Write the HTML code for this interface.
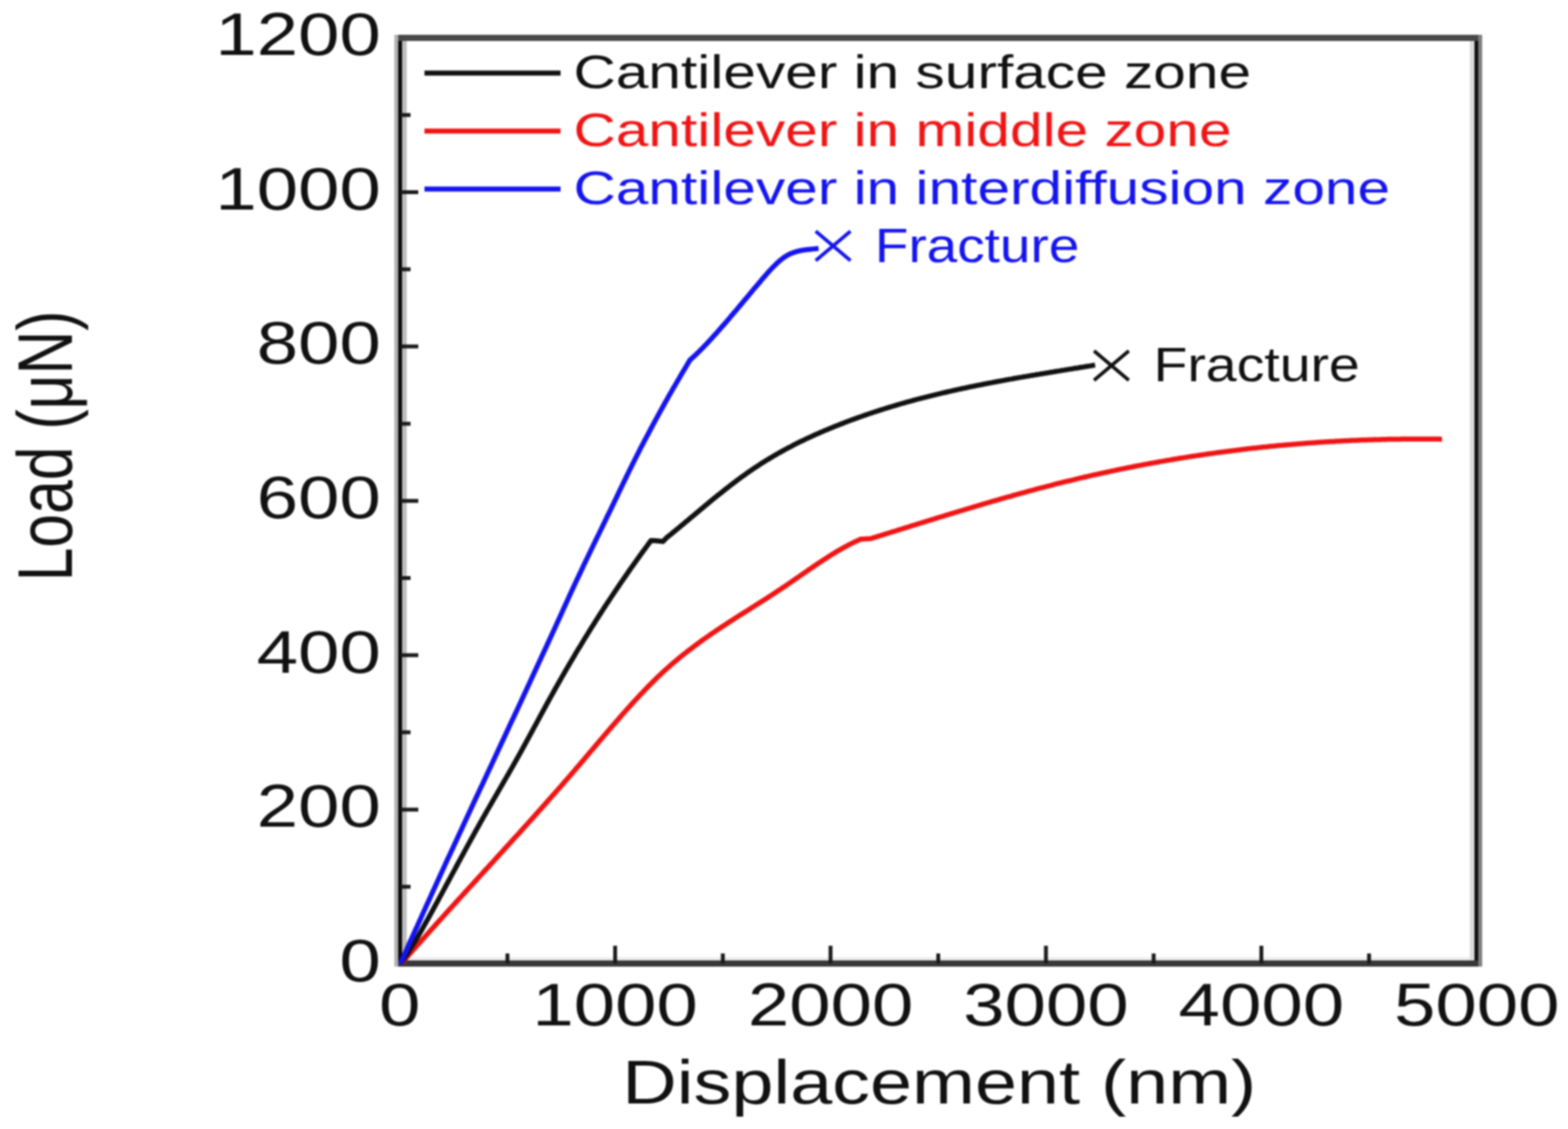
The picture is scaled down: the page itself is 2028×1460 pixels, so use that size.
<!DOCTYPE html>
<html><head><meta charset="utf-8"><title>Load-displacement curves</title>
<style>
html,body{margin:0;padding:0;background:#fff;}
body{width:2028px;height:1460px;overflow:hidden;}
svg{display:block;filter:blur(0.9px);}
</style></head>
<body>
<svg width="2028" height="1460" viewBox="0 0 2028 1460" font-family="'Liberation Sans', Arial, sans-serif">
<rect width="2028" height="1460" fill="#fff"/>
<rect x="510" y="45" width="5" height="1205" fill="#b2b2b2"/>
<rect x="520" y="53" width="6" height="1189" fill="#bdbdbd"/>
<rect x="515" y="45" width="5" height="1205" fill="#0a0a0a"/>
<rect x="1901" y="53" width="6" height="1189" fill="#dcdcdc"/>
<rect x="1912" y="45" width="5" height="1205" fill="#808080"/>
<rect x="1907" y="45" width="5" height="1205" fill="#111"/>
<rect x="515" y="45" width="1397" height="8" fill="#484848"/>
<rect x="526" y="1238" width="1375" height="4" fill="#ececec"/>
<rect x="515" y="1242" width="1397" height="8" fill="#383838"/>
<path d="M518 1146.7h13 M518 1046.9h23 M518 947.1h13 M518 847.3h23 M518 747.5h13 M518 647.7h23 M518 547.9h13 M518 448.1h23 M518 348.3h13 M518 248.5h23 M518 148.7h13 M656.3 1246v-13 M795.6 1246v-23 M934.9 1246v-13 M1074.2 1246v-23 M1213.5 1246v-13 M1352.8 1246v-23 M1492.1 1246v-13 M1631.4 1246v-23 M1770.7 1246v-13" stroke="#1a1a1a" stroke-width="5" fill="none"/>
<text transform="translate(492.5 1268.7) scale(1.25 1)" text-anchor="end" font-size="77" fill="#111">0</text>
<text transform="translate(492.5 1069.1) scale(1.25 1)" text-anchor="end" font-size="77" fill="#111">200</text>
<text transform="translate(492.5 869.5) scale(1.25 1)" text-anchor="end" font-size="77" fill="#111">400</text>
<text transform="translate(492.5 669.9) scale(1.25 1)" text-anchor="end" font-size="77" fill="#111">600</text>
<text transform="translate(492.5 470.3) scale(1.25 1)" text-anchor="end" font-size="77" fill="#111">800</text>
<text transform="translate(492.5 270.7) scale(1.25 1)" text-anchor="end" font-size="77" fill="#111">1000</text>
<text transform="translate(492.5 71.1) scale(1.25 1)" text-anchor="end" font-size="77" fill="#111">1200</text>
<text transform="translate(517.0 1326) scale(1.25 1)" text-anchor="middle" font-size="77" fill="#111">0</text>
<text transform="translate(795.6 1326) scale(1.25 1)" text-anchor="middle" font-size="77" fill="#111">1000</text>
<text transform="translate(1074.2 1326) scale(1.25 1)" text-anchor="middle" font-size="77" fill="#111">2000</text>
<text transform="translate(1352.8 1326) scale(1.25 1)" text-anchor="middle" font-size="77" fill="#111">3000</text>
<text transform="translate(1631.4 1326) scale(1.25 1)" text-anchor="middle" font-size="77" fill="#111">4000</text>
<text transform="translate(1910.0 1326) scale(1.25 1)" text-anchor="middle" font-size="77" fill="#111">5000</text>
<text transform="translate(804.7 1426.5) scale(1.222 1)" font-size="80" fill="#111">Displacement (nm)</text>
<text transform="translate(92.5 751.8) rotate(-90) scale(1 1.27)" font-size="78.4" fill="#111">Load (μN)</text>
<path d="M549 94.5H725" stroke="#111" stroke-width="6.5"/>
<text transform="translate(741.7 114.0) scale(1.253 1)" font-size="60.5" fill="#111">Cantilever in surface zone</text>
<path d="M549 169.5H725" stroke="#f01414" stroke-width="6.5"/>
<text transform="translate(741.7 189.0) scale(1.253 1)" font-size="60.5" fill="#f01414">Cantilever in middle zone</text>
<path d="M549 244.5H725" stroke="#1414f0" stroke-width="6.5"/>
<text transform="translate(741.7 264.0) scale(1.253 1)" font-size="60.5" fill="#1414f0">Cantilever in interdiffusion zone</text>
<path d="M519.0 1246.0 L521.0 1243.7 L523.0 1241.4 L525.0 1239.2 L527.0 1236.9 L529.0 1234.6 L531.0 1232.3 L533.0 1230.1 L535.0 1227.8 L537.0 1225.6 L539.0 1223.3 L541.0 1221.0 L543.0 1218.8 L545.0 1216.5 L547.0 1214.3 L549.0 1212.1 L551.0 1209.8 L553.0 1207.6 L555.0 1205.4 L557.0 1203.1 L559.0 1200.9 L561.0 1198.7 L563.0 1196.4 L565.0 1194.2 L567.0 1192.0 L569.0 1189.8 L571.0 1187.6 L573.0 1185.4 L575.0 1183.1 L577.0 1180.9 L579.0 1178.7 L581.0 1176.5 L583.0 1174.3 L585.0 1172.1 L587.0 1169.9 L589.0 1167.7 L591.0 1165.5 L593.0 1163.3 L595.0 1161.1 L597.0 1158.9 L599.0 1156.7 L601.0 1154.5 L603.0 1152.3 L605.0 1150.1 L607.0 1147.9 L609.0 1145.8 L611.0 1143.6 L613.0 1141.4 L615.0 1139.2 L617.0 1137.0 L619.0 1134.8 L621.0 1132.6 L623.0 1130.4 L625.0 1128.2 L627.0 1126.0 L629.0 1123.8 L631.0 1121.7 L633.0 1119.5 L635.0 1117.3 L637.0 1115.1 L639.0 1112.9 L641.0 1110.7 L643.0 1108.5 L645.0 1106.3 L647.0 1104.1 L649.0 1101.9 L651.0 1099.7 L653.0 1097.5 L655.0 1095.3 L657.0 1093.1 L659.0 1090.9 L661.0 1088.7 L663.0 1086.5 L665.0 1084.3 L667.0 1082.1 L669.1 1079.9 L671.1 1077.7 L673.1 1075.5 L675.1 1073.2 L677.1 1071.0 L679.1 1068.8 L681.1 1066.6 L683.1 1064.4 L685.1 1062.1 L687.1 1059.9 L689.1 1057.7 L691.1 1055.5 L693.1 1053.2 L695.1 1051.0 L697.1 1048.7 L699.1 1046.5 L701.1 1044.3 L703.1 1042.0 L705.1 1039.8 L707.1 1037.5 L709.1 1035.2 L711.1 1033.0 L713.1 1030.7 L715.1 1028.4 L717.1 1026.2 L719.1 1023.9 L721.1 1021.6 L723.1 1019.3 L725.1 1017.1 L727.1 1014.8 L729.1 1012.5 L731.1 1010.2 L733.1 1007.9 L735.1 1005.6 L737.1 1003.3 L739.1 1001.0 L741.1 998.6 L743.1 996.3 L745.1 994.0 L747.1 991.7 L749.1 989.3 L751.1 987.0 L753.1 984.6 L755.1 982.3 L757.1 979.9 L759.1 977.6 L761.1 975.2 L763.1 972.9 L765.1 970.5 L767.1 968.2 L769.1 965.8 L771.1 963.4 L773.1 961.1 L775.1 958.7 L777.1 956.4 L779.1 954.0 L781.1 951.7 L783.1 949.3 L785.1 947.0 L787.1 944.7 L789.1 942.3 L791.1 940.0 L793.1 937.7 L795.1 935.4 L797.1 933.1 L799.1 930.8 L801.1 928.5 L803.1 926.2 L805.1 923.9 L807.1 921.6 L809.1 919.4 L811.1 917.1 L813.1 914.9 L815.1 912.7 L817.1 910.5 L819.1 908.3 L821.1 906.1 L823.1 903.9 L825.1 901.8 L827.1 899.6 L829.1 897.5 L831.1 895.4 L833.1 893.3 L835.1 891.2 L837.1 889.1 L839.1 887.1 L841.1 885.1 L843.1 883.1 L845.1 881.1 L847.1 879.1 L849.1 877.1 L851.1 875.2 L853.1 873.3 L855.1 871.4 L857.1 869.5 L859.1 867.7 L861.1 865.9 L863.1 864.1 L865.1 862.3 L867.1 860.5 L869.1 858.8 L871.1 857.1 L873.1 855.4 L875.1 853.7 L877.1 852.0 L879.1 850.4 L881.1 848.8 L883.1 847.1 L885.1 845.5 L887.1 844.0 L889.1 842.4 L891.1 840.8 L893.1 839.3 L895.1 837.8 L897.1 836.3 L899.1 834.8 L901.1 833.3 L903.1 831.8 L905.1 830.4 L907.1 828.9 L909.1 827.5 L911.1 826.1 L913.1 824.7 L915.1 823.3 L917.1 821.9 L919.1 820.5 L921.1 819.1 L923.1 817.8 L925.1 816.4 L927.1 815.0 L929.1 813.7 L931.1 812.4 L933.1 811.0 L935.1 809.7 L937.1 808.4 L939.1 807.1 L941.1 805.8 L943.1 804.5 L945.1 803.2 L947.1 801.9 L949.1 800.6 L951.1 799.3 L953.1 798.1 L955.1 796.8 L957.1 795.5 L959.1 794.2 L961.1 793.0 L963.1 791.7 L965.2 790.4 L967.2 789.2 L969.2 787.9 L971.2 786.6 L973.2 785.4 L975.2 784.1 L977.2 782.8 L979.2 781.6 L981.2 780.3 L983.2 779.0 L985.2 777.8 L987.2 776.5 L989.2 775.2 L991.2 773.9 L993.2 772.6 L995.2 771.4 L997.2 770.1 L999.2 768.8 L1001.2 767.5 L1003.2 766.1 L1005.2 764.8 L1007.2 763.5 L1009.2 762.2 L1011.2 760.8 L1013.2 759.5 L1015.2 758.2 L1017.2 756.8 L1019.2 755.4 L1021.2 754.1 L1023.2 752.7 L1025.2 751.3 L1027.2 749.9 L1029.2 748.5 L1031.2 747.2 L1033.2 745.8 L1035.2 744.4 L1037.2 743.0 L1039.2 741.6 L1041.2 740.2 L1043.2 738.9 L1045.2 737.5 L1047.2 736.1 L1049.2 734.7 L1051.2 733.4 L1053.2 732.0 L1055.2 730.6 L1057.2 729.3 L1059.2 728.0 L1061.2 726.6 L1063.2 725.3 L1065.2 724.0 L1067.2 722.7 L1069.2 721.4 L1071.2 720.1 L1073.2 718.9 L1075.2 717.6 L1077.2 716.4 L1079.2 715.1 L1081.2 713.9 L1083.2 712.7 L1085.2 711.6 L1087.2 710.4 L1089.2 709.3 L1091.2 708.2 L1093.2 707.1 L1095.2 706.0 L1097.2 704.9 L1099.2 703.9 L1101.2 702.9 L1103.2 701.9 L1105.2 700.9 L1107.2 700.0 L1109.2 699.1 L1111.2 698.2 L1113.2 697.3 L1126.5 696.4 L1128.5 695.8 L1130.5 695.2 L1132.5 694.6 L1134.5 693.9 L1136.5 693.3 L1138.5 692.7 L1140.5 692.1 L1142.5 691.4 L1144.5 690.8 L1146.5 690.2 L1148.5 689.6 L1150.5 689.0 L1152.5 688.3 L1154.5 687.7 L1156.5 687.1 L1158.5 686.5 L1160.5 685.8 L1162.5 685.2 L1164.5 684.6 L1166.5 684.0 L1168.5 683.4 L1170.5 682.7 L1172.5 682.1 L1174.5 681.5 L1176.5 680.9 L1178.5 680.2 L1180.5 679.6 L1182.5 679.0 L1184.5 678.4 L1186.5 677.8 L1188.5 677.1 L1190.5 676.5 L1192.5 675.9 L1194.5 675.3 L1196.5 674.7 L1198.5 674.0 L1200.6 673.4 L1202.6 672.8 L1204.6 672.2 L1206.6 671.6 L1208.6 670.9 L1210.6 670.3 L1212.6 669.7 L1214.6 669.1 L1216.6 668.5 L1218.6 667.9 L1220.6 667.3 L1222.6 666.6 L1224.6 666.0 L1226.6 665.4 L1228.6 664.8 L1230.6 664.2 L1232.6 663.6 L1234.6 663.0 L1236.6 662.4 L1238.6 661.8 L1240.6 661.2 L1242.6 660.6 L1244.6 660.0 L1246.6 659.4 L1248.6 658.8 L1250.6 658.2 L1252.6 657.6 L1254.6 657.0 L1256.6 656.4 L1258.6 655.8 L1260.6 655.2 L1262.6 654.6 L1264.6 654.0 L1266.6 653.4 L1268.6 652.8 L1270.6 652.2 L1272.6 651.6 L1274.6 651.0 L1276.6 650.4 L1278.6 649.9 L1280.6 649.3 L1282.6 648.7 L1284.6 648.1 L1286.6 647.5 L1288.6 647.0 L1290.6 646.4 L1292.6 645.8 L1294.6 645.2 L1296.6 644.7 L1298.6 644.1 L1300.6 643.5 L1302.6 642.9 L1304.6 642.4 L1306.6 641.8 L1308.6 641.3 L1310.6 640.7 L1312.6 640.1 L1314.6 639.6 L1316.6 639.0 L1318.6 638.5 L1320.6 637.9 L1322.6 637.4 L1324.6 636.8 L1326.6 636.3 L1328.6 635.7 L1330.6 635.2 L1332.6 634.6 L1334.6 634.1 L1336.6 633.6 L1338.6 633.0 L1340.6 632.5 L1342.6 631.9 L1344.6 631.4 L1346.6 630.9 L1348.7 630.4 L1350.7 629.8 L1352.7 629.3 L1354.7 628.8 L1356.7 628.3 L1358.7 627.8 L1360.7 627.3 L1362.7 626.7 L1364.7 626.2 L1366.7 625.7 L1368.7 625.2 L1370.7 624.7 L1372.7 624.2 L1374.7 623.7 L1376.7 623.2 L1378.7 622.7 L1380.7 622.2 L1382.7 621.8 L1384.7 621.3 L1386.7 620.8 L1388.7 620.3 L1390.7 619.8 L1392.7 619.3 L1394.7 618.9 L1396.7 618.4 L1398.7 617.9 L1400.7 617.5 L1402.7 617.0 L1404.7 616.5 L1406.7 616.1 L1408.7 615.6 L1410.7 615.2 L1412.7 614.7 L1414.7 614.2 L1416.7 613.8 L1418.7 613.4 L1420.7 612.9 L1422.7 612.5 L1424.7 612.0 L1426.7 611.6 L1428.7 611.1 L1430.7 610.7 L1432.7 610.3 L1434.7 609.9 L1436.7 609.4 L1438.7 609.0 L1440.7 608.6 L1442.7 608.2 L1444.7 607.7 L1446.7 607.3 L1448.7 606.9 L1450.7 606.5 L1452.7 606.1 L1454.7 605.7 L1456.7 605.3 L1458.7 604.9 L1460.7 604.5 L1462.7 604.1 L1464.7 603.7 L1466.7 603.3 L1468.7 602.9 L1470.7 602.5 L1472.7 602.1 L1474.7 601.7 L1476.7 601.4 L1478.7 601.0 L1480.7 600.6 L1482.7 600.2 L1484.7 599.9 L1486.7 599.5 L1488.7 599.1 L1490.7 598.7 L1492.7 598.4 L1494.7 598.0 L1496.8 597.7 L1498.8 597.3 L1500.8 596.9 L1502.8 596.6 L1504.8 596.2 L1506.8 595.9 L1508.8 595.5 L1510.8 595.2 L1512.8 594.9 L1514.8 594.5 L1516.8 594.2 L1518.8 593.8 L1520.8 593.5 L1522.8 593.2 L1524.8 592.8 L1526.8 592.5 L1528.8 592.2 L1530.8 591.9 L1532.8 591.6 L1534.8 591.2 L1536.8 590.9 L1538.8 590.6 L1540.8 590.3 L1542.8 590.0 L1544.8 589.7 L1546.8 589.4 L1548.8 589.1 L1550.8 588.8 L1552.8 588.5 L1554.8 588.2 L1556.8 587.9 L1558.8 587.6 L1560.8 587.3 L1562.8 587.0 L1564.8 586.7 L1566.8 586.4 L1568.8 586.2 L1570.8 585.9 L1572.8 585.6 L1574.8 585.3 L1576.8 585.1 L1578.8 584.8 L1580.8 584.5 L1582.8 584.3 L1584.8 584.0 L1586.8 583.7 L1588.8 583.5 L1590.8 583.2 L1592.8 583.0 L1594.8 582.7 L1596.8 582.5 L1598.8 582.2 L1600.8 582.0 L1602.8 581.7 L1604.8 581.5 L1606.8 581.2 L1608.8 581.0 L1610.8 580.8 L1612.8 580.5 L1614.8 580.3 L1616.8 580.1 L1618.8 579.8 L1620.8 579.6 L1622.8 579.4 L1624.8 579.2 L1626.8 579.0 L1628.8 578.7 L1630.8 578.5 L1632.8 578.3 L1634.8 578.1 L1636.8 577.9 L1638.8 577.7 L1640.8 577.5 L1642.8 577.3 L1644.9 577.1 L1646.9 576.9 L1648.9 576.7 L1650.9 576.5 L1652.9 576.3 L1654.9 576.1 L1656.9 575.9 L1658.9 575.8 L1660.9 575.6 L1662.9 575.4 L1664.9 575.2 L1666.9 575.0 L1668.9 574.9 L1670.9 574.7 L1672.9 574.5 L1674.9 574.4 L1676.9 574.2 L1678.9 574.0 L1680.9 573.9 L1682.9 573.7 L1684.9 573.6 L1686.9 573.4 L1688.9 573.2 L1690.9 573.1 L1692.9 572.9 L1694.9 572.8 L1696.9 572.7 L1698.9 572.5 L1700.9 572.4 L1702.9 572.2 L1704.9 572.1 L1706.9 572.0 L1708.9 571.8 L1710.9 571.7 L1712.9 571.6 L1714.9 571.4 L1716.9 571.3 L1718.9 571.2 L1720.9 571.1 L1722.9 571.0 L1724.9 570.9 L1726.9 570.7 L1728.9 570.6 L1730.9 570.5 L1732.9 570.4 L1734.9 570.3 L1736.9 570.2 L1738.9 570.1 L1740.9 570.0 L1742.9 569.9 L1744.9 569.8 L1746.9 569.7 L1748.9 569.6 L1750.9 569.5 L1752.9 569.5 L1754.9 569.4 L1756.9 569.3 L1758.9 569.2 L1760.9 569.1 L1762.9 569.1 L1764.9 569.0 L1766.9 568.9 L1768.9 568.8 L1770.9 568.8 L1772.9 568.7 L1774.9 568.7 L1776.9 568.6 L1778.9 568.5 L1780.9 568.5 L1782.9 568.4 L1784.9 568.4 L1786.9 568.3 L1788.9 568.3 L1790.9 568.2 L1793.0 568.2 L1795.0 568.1 L1797.0 568.1 L1799.0 568.1 L1801.0 568.0 L1803.0 568.0 L1805.0 567.9 L1807.0 567.9 L1809.0 567.9 L1811.0 567.9 L1813.0 567.8 L1815.0 567.8 L1817.0 567.8 L1819.0 567.8 L1821.0 567.8 L1823.0 567.7 L1825.0 567.7 L1827.0 567.7 L1829.0 567.7 L1831.0 567.7 L1833.0 567.7 L1835.0 567.7 L1837.0 567.7 L1839.0 567.7 L1841.0 567.7 L1843.0 567.7 L1845.0 567.7 L1847.0 567.7 L1849.0 567.7 L1851.0 567.8 L1853.0 567.8 L1855.0 567.8 L1857.0 567.8 L1859.0 567.8 L1861.0 567.8 L1863.0 567.9 L1865.0 567.9" stroke="#f01414" stroke-width="6.5" fill="none" stroke-linejoin="round"/>
<path d="M518.0 1246.0 L519.5 1243.9 L521.0 1241.8 L522.5 1239.7 L524.0 1237.5 L525.5 1235.2 L527.0 1233.0 L528.5 1230.6 L530.0 1228.3 L531.5 1225.9 L533.0 1223.5 L534.5 1221.1 L536.0 1218.6 L537.5 1216.1 L539.0 1213.6 L540.5 1211.1 L542.0 1208.5 L543.5 1205.9 L545.0 1203.3 L546.5 1200.7 L548.0 1198.0 L549.5 1195.4 L551.0 1192.7 L552.5 1190.0 L554.0 1187.3 L555.5 1184.6 L557.0 1181.9 L558.5 1179.1 L560.0 1176.4 L561.5 1173.6 L563.0 1170.9 L564.5 1168.1 L566.0 1165.4 L567.5 1162.6 L569.0 1159.8 L570.5 1157.1 L572.0 1154.3 L573.5 1151.5 L575.0 1148.7 L576.5 1145.9 L578.0 1143.2 L579.5 1140.4 L581.0 1137.6 L582.5 1134.8 L584.0 1132.0 L585.5 1129.2 L587.0 1126.5 L588.5 1123.7 L590.0 1120.9 L591.5 1118.1 L593.0 1115.3 L594.5 1112.6 L596.0 1109.8 L597.5 1107.0 L599.0 1104.3 L600.5 1101.5 L602.0 1098.7 L603.5 1096.0 L605.0 1093.2 L606.5 1090.5 L608.0 1087.8 L609.5 1085.0 L611.0 1082.3 L612.5 1079.6 L614.0 1076.9 L615.5 1074.2 L617.0 1071.5 L618.5 1068.8 L620.0 1066.1 L621.5 1063.4 L623.0 1060.8 L624.5 1058.1 L626.0 1055.5 L627.5 1052.8 L629.0 1050.2 L630.5 1047.6 L632.0 1045.0 L633.5 1042.4 L635.0 1039.8 L636.5 1037.2 L638.0 1034.6 L639.5 1032.0 L641.0 1029.4 L642.5 1026.8 L644.0 1024.2 L645.5 1021.6 L647.0 1019.0 L648.5 1016.4 L650.0 1013.8 L651.5 1011.2 L653.0 1008.6 L654.5 1006.0 L656.0 1003.4 L657.5 1000.8 L659.0 998.2 L660.5 995.6 L662.0 993.0 L663.5 990.3 L665.0 987.7 L666.5 985.0 L668.0 982.4 L669.5 979.7 L671.0 977.0 L672.5 974.3 L674.0 971.6 L675.5 968.9 L677.0 966.1 L678.5 963.4 L680.0 960.7 L681.5 957.9 L683.0 955.2 L684.5 952.4 L686.0 949.6 L687.5 946.9 L689.0 944.1 L690.5 941.3 L692.0 938.5 L693.5 935.8 L695.0 933.0 L696.5 930.2 L698.0 927.4 L699.5 924.7 L701.0 921.9 L702.5 919.1 L704.0 916.4 L705.5 913.6 L707.0 910.9 L708.5 908.1 L710.0 905.4 L711.5 902.7 L713.0 900.0 L714.5 897.3 L716.0 894.6 L717.5 891.9 L719.0 889.2 L720.5 886.6 L722.0 883.9 L723.5 881.3 L725.0 878.7 L726.5 876.0 L728.0 873.4 L729.5 870.8 L731.0 868.2 L732.5 865.6 L734.0 863.0 L735.5 860.5 L737.0 857.9 L738.5 855.4 L740.0 852.8 L741.5 850.3 L743.0 847.8 L744.5 845.2 L746.0 842.7 L747.5 840.2 L749.0 837.8 L750.5 835.3 L752.0 832.8 L753.5 830.3 L755.0 827.9 L756.5 825.4 L758.0 823.0 L759.5 820.6 L761.0 818.1 L762.5 815.7 L764.0 813.3 L765.5 810.9 L767.0 808.6 L768.5 806.2 L770.0 803.8 L771.5 801.4 L773.0 799.1 L774.5 796.7 L776.0 794.4 L777.5 792.1 L779.0 789.8 L780.5 787.4 L782.0 785.1 L783.5 782.8 L785.0 780.5 L786.5 778.3 L788.0 776.0 L789.5 773.7 L791.0 771.5 L792.5 769.2 L794.0 767.0 L795.5 764.7 L797.0 762.5 L798.5 760.3 L800.0 758.1 L801.5 755.9 L803.0 753.7 L804.5 751.5 L806.0 749.3 L807.5 747.1 L809.0 745.0 L810.5 742.8 L812.0 740.6 L813.5 738.5 L815.0 736.3 L816.5 734.2 L818.0 732.1 L819.5 730.0 L821.0 727.9 L822.5 725.8 L824.0 723.7 L825.5 721.6 L827.0 719.5 L828.5 717.4 L830.0 715.3 L831.5 713.3 L833.0 711.2 L834.5 709.2 L836.0 707.1 L837.5 705.1 L839.0 703.0 L840.5 701.0 L842.0 699.0 L848.0 699.3 L857.5 700.3 L862.0 695.5 L864.0 693.9 L866.0 692.3 L868.0 690.7 L870.0 689.0 L872.0 687.4 L874.0 685.8 L876.0 684.1 L878.0 682.5 L880.0 680.8 L882.0 679.1 L884.0 677.5 L886.0 675.8 L888.0 674.1 L890.0 672.5 L892.0 670.8 L894.0 669.1 L896.0 667.4 L898.0 665.7 L900.0 664.1 L902.0 662.4 L904.0 660.7 L906.0 659.0 L908.0 657.4 L910.0 655.7 L912.0 654.0 L914.0 652.4 L916.0 650.7 L918.0 649.0 L920.0 647.4 L922.0 645.8 L924.0 644.1 L926.0 642.5 L928.0 640.9 L930.0 639.3 L932.1 637.7 L934.1 636.1 L936.1 634.5 L938.1 632.9 L940.1 631.3 L942.1 629.8 L944.1 628.2 L946.1 626.7 L948.1 625.2 L950.1 623.6 L952.1 622.1 L954.1 620.6 L956.1 619.2 L958.1 617.7 L960.1 616.2 L962.1 614.8 L964.1 613.3 L966.1 611.9 L968.1 610.5 L970.1 609.1 L972.1 607.8 L974.1 606.4 L976.1 605.0 L978.1 603.7 L980.1 602.4 L982.1 601.1 L984.1 599.8 L986.1 598.5 L988.1 597.3 L990.1 596.0 L992.1 594.8 L994.1 593.6 L996.1 592.4 L998.1 591.2 L1000.1 590.0 L1002.1 588.8 L1004.1 587.7 L1006.1 586.5 L1008.1 585.4 L1010.1 584.3 L1012.1 583.2 L1014.1 582.1 L1016.1 581.0 L1018.1 579.9 L1020.1 578.8 L1022.1 577.8 L1024.1 576.8 L1026.1 575.7 L1028.1 574.7 L1030.1 573.7 L1032.1 572.7 L1034.1 571.7 L1036.1 570.7 L1038.1 569.8 L1040.1 568.8 L1042.1 567.8 L1044.1 566.9 L1046.1 566.0 L1048.1 565.1 L1050.1 564.1 L1052.1 563.2 L1054.1 562.3 L1056.1 561.4 L1058.1 560.6 L1060.1 559.7 L1062.1 558.8 L1064.1 558.0 L1066.1 557.1 L1068.1 556.3 L1070.2 555.4 L1072.2 554.6 L1074.2 553.8 L1076.2 552.9 L1078.2 552.1 L1080.2 551.3 L1082.2 550.5 L1084.2 549.7 L1086.2 548.9 L1088.2 548.1 L1090.2 547.4 L1092.2 546.6 L1094.2 545.8 L1096.2 545.1 L1098.2 544.3 L1100.2 543.6 L1102.2 542.8 L1104.2 542.1 L1106.2 541.4 L1108.2 540.6 L1110.2 539.9 L1112.2 539.2 L1114.2 538.5 L1116.2 537.8 L1118.2 537.1 L1120.2 536.4 L1122.2 535.7 L1124.2 535.0 L1126.2 534.4 L1128.2 533.7 L1130.2 533.0 L1132.2 532.4 L1134.2 531.7 L1136.2 531.1 L1138.2 530.4 L1140.2 529.8 L1142.2 529.2 L1144.2 528.5 L1146.2 527.9 L1148.2 527.3 L1150.2 526.7 L1152.2 526.1 L1154.2 525.5 L1156.2 524.9 L1158.2 524.3 L1160.2 523.7 L1162.2 523.1 L1164.2 522.5 L1166.2 521.9 L1168.2 521.4 L1170.2 520.8 L1172.2 520.2 L1174.2 519.7 L1176.2 519.1 L1178.2 518.6 L1180.2 518.0 L1182.2 517.5 L1184.2 516.9 L1186.2 516.4 L1188.2 515.9 L1190.2 515.3 L1192.2 514.8 L1194.2 514.3 L1196.2 513.8 L1198.2 513.3 L1200.2 512.8 L1202.2 512.3 L1204.2 511.8 L1206.2 511.3 L1208.2 510.8 L1210.3 510.3 L1212.3 509.8 L1214.3 509.3 L1216.3 508.9 L1218.3 508.4 L1220.3 507.9 L1222.3 507.5 L1224.3 507.0 L1226.3 506.5 L1228.3 506.1 L1230.3 505.6 L1232.3 505.2 L1234.3 504.7 L1236.3 504.3 L1238.3 503.8 L1240.3 503.4 L1242.3 503.0 L1244.3 502.5 L1246.3 502.1 L1248.3 501.7 L1250.3 501.3 L1252.3 500.8 L1254.3 500.4 L1256.3 500.0 L1258.3 499.6 L1260.3 499.2 L1262.3 498.8 L1264.3 498.4 L1266.3 498.0 L1268.3 497.6 L1270.3 497.2 L1272.3 496.8 L1274.3 496.4 L1276.3 496.0 L1278.3 495.6 L1280.3 495.2 L1282.3 494.9 L1284.3 494.5 L1286.3 494.1 L1288.3 493.7 L1290.3 493.3 L1292.3 493.0 L1294.3 492.6 L1296.3 492.2 L1298.3 491.9 L1300.3 491.5 L1302.3 491.1 L1304.3 490.8 L1306.3 490.4 L1308.3 490.1 L1310.3 489.7 L1312.3 489.3 L1314.3 489.0 L1316.3 488.6 L1318.3 488.3 L1320.3 487.9 L1322.3 487.6 L1324.3 487.2 L1326.3 486.9 L1328.3 486.6 L1330.3 486.2 L1332.3 485.9 L1334.3 485.5 L1336.3 485.2 L1338.3 484.9 L1340.3 484.5 L1342.3 484.2 L1344.3 483.9 L1346.3 483.5 L1348.4 483.2 L1350.4 482.9 L1352.4 482.5 L1354.4 482.2 L1356.4 481.9 L1358.4 481.5 L1360.4 481.2 L1362.4 480.9 L1364.4 480.5 L1366.4 480.2 L1368.4 479.9 L1370.4 479.6 L1372.4 479.2 L1374.4 478.9 L1376.4 478.6 L1378.4 478.3 L1380.4 477.9 L1382.4 477.6 L1384.4 477.3 L1386.4 477.0 L1388.4 476.6 L1390.4 476.3 L1392.4 476.0 L1394.4 475.7 L1396.4 475.3 L1398.4 475.0 L1400.4 474.7 L1402.4 474.4 L1404.4 474.0 L1406.4 473.7 L1408.4 473.4 L1410.4 473.1 L1412.4 472.7 L1414.4 472.4 L1416.4 472.1" stroke="#111" stroke-width="6.5" fill="none" stroke-linejoin="round"/>
<path d="M518.0 1246.0 L519.5 1242.6 L521.0 1239.2 L522.5 1235.8 L524.0 1232.4 L525.5 1229.1 L527.0 1225.7 L528.5 1222.3 L530.0 1218.9 L531.5 1215.6 L533.0 1212.2 L534.5 1208.9 L536.0 1205.5 L537.5 1202.2 L539.1 1198.8 L540.6 1195.5 L542.1 1192.1 L543.6 1188.8 L545.1 1185.5 L546.6 1182.2 L548.1 1178.8 L549.6 1175.5 L551.1 1172.2 L552.6 1168.9 L554.1 1165.6 L555.6 1162.3 L557.1 1159.0 L558.6 1155.6 L560.1 1152.3 L561.6 1149.0 L563.1 1145.8 L564.6 1142.5 L566.1 1139.2 L567.6 1135.9 L569.1 1132.6 L570.6 1129.3 L572.1 1126.0 L573.6 1122.8 L575.1 1119.5 L576.6 1116.2 L578.1 1112.9 L579.6 1109.7 L581.2 1106.4 L582.7 1103.1 L584.2 1099.9 L585.7 1096.6 L587.2 1093.4 L588.7 1090.1 L590.2 1086.8 L591.7 1083.6 L593.2 1080.3 L594.7 1077.1 L596.2 1073.8 L597.7 1070.6 L599.2 1067.3 L600.7 1064.1 L602.2 1060.9 L603.7 1057.6 L605.2 1054.4 L606.7 1051.1 L608.2 1047.9 L609.7 1044.7 L611.2 1041.4 L612.7 1038.2 L614.2 1035.0 L615.7 1031.7 L617.2 1028.5 L618.7 1025.3 L620.2 1022.0 L621.7 1018.8 L623.3 1015.6 L624.8 1012.3 L626.3 1009.1 L627.8 1005.9 L629.3 1002.7 L630.8 999.4 L632.3 996.2 L633.8 993.0 L635.3 989.8 L636.8 986.5 L638.3 983.3 L639.8 980.1 L641.3 976.9 L642.8 973.6 L644.3 970.4 L645.8 967.2 L647.3 964.0 L648.8 960.7 L650.3 957.5 L651.8 954.3 L653.3 951.1 L654.8 947.8 L656.3 944.6 L657.8 941.4 L659.3 938.1 L660.8 934.9 L662.3 931.7 L663.9 928.5 L665.4 925.2 L666.9 922.0 L668.4 918.8 L669.9 915.5 L671.4 912.3 L672.9 909.1 L674.4 905.8 L675.9 902.6 L677.4 899.3 L678.9 896.1 L680.4 892.9 L681.9 889.6 L683.4 886.4 L684.9 883.1 L686.4 879.9 L687.9 876.6 L689.4 873.4 L690.9 870.1 L692.4 866.9 L693.9 863.6 L695.4 860.4 L696.9 857.1 L698.4 853.8 L699.9 850.6 L701.4 847.3 L702.9 844.1 L704.4 840.8 L706.0 837.5 L707.5 834.2 L709.0 831.0 L710.5 827.7 L712.0 824.4 L713.5 821.1 L715.0 817.8 L716.5 814.6 L718.0 811.3 L719.5 808.0 L721.0 804.7 L722.5 801.4 L724.0 798.1 L725.5 794.8 L727.0 791.5 L728.5 788.2 L730.0 784.9 L731.5 781.6 L733.0 778.3 L734.5 775.0 L736.0 771.7 L737.5 768.4 L739.0 765.2 L740.5 761.9 L742.0 758.6 L743.5 755.4 L745.0 752.1 L746.5 748.9 L748.1 745.7 L749.6 742.5 L751.1 739.3 L752.6 736.1 L754.1 732.9 L755.6 729.7 L757.1 726.6 L758.6 723.4 L760.1 720.3 L761.6 717.2 L763.1 714.1 L764.6 710.9 L766.1 707.8 L767.6 704.7 L769.1 701.6 L770.6 698.5 L772.1 695.4 L773.6 692.4 L775.1 689.3 L776.6 686.2 L778.1 683.1 L779.6 680.0 L781.1 676.9 L782.6 673.8 L784.1 670.7 L785.6 667.5 L787.1 664.4 L788.7 661.3 L790.2 658.2 L791.7 655.0 L793.2 651.9 L794.7 648.7 L796.2 645.6 L797.7 642.5 L799.2 639.3 L800.7 636.2 L802.2 633.0 L803.7 629.9 L805.2 626.8 L806.7 623.7 L808.2 620.6 L809.7 617.5 L811.2 614.4 L812.7 611.3 L814.2 608.2 L815.7 605.2 L817.2 602.1 L818.7 599.1 L820.2 596.1 L821.7 593.1 L823.2 590.1 L824.7 587.2 L826.2 584.2 L827.7 581.3 L829.2 578.3 L830.8 575.4 L832.3 572.5 L833.8 569.6 L835.3 566.8 L836.8 563.9 L838.3 561.1 L839.8 558.2 L841.3 555.4 L842.8 552.6 L844.3 549.8 L845.8 547.0 L847.3 544.2 L848.8 541.5 L850.3 538.7 L851.8 536.0 L853.3 533.2 L854.8 530.5 L856.3 527.8 L857.8 525.1 L859.3 522.4 L860.8 519.7 L862.3 517.1 L863.8 514.4 L865.3 511.7 L866.8 509.1 L868.3 506.5 L869.8 503.8 L871.3 501.2 L872.9 498.6 L874.4 496.0 L875.9 493.4 L877.4 490.9 L878.9 488.3 L880.4 485.7 L881.9 483.2 L883.4 480.6 L884.9 478.1 L886.4 475.6 L887.9 473.0 L889.4 470.5 L890.9 468.0 L892.4 465.5 L893.9 464.2 L895.4 462.8 L896.9 461.5 L898.4 460.1 L900.0 458.6 L901.5 457.2 L903.0 455.7 L904.5 454.2 L906.0 452.7 L907.5 451.2 L909.0 449.7 L910.5 448.1 L912.1 446.5 L913.6 445.0 L915.1 443.3 L916.6 441.7 L918.1 440.1 L919.6 438.5 L921.1 436.8 L922.6 435.1 L924.1 433.5 L925.7 431.8 L927.2 430.1 L928.7 428.4 L930.2 426.7 L931.7 425.0 L933.2 423.2 L934.7 421.5 L936.2 419.8 L937.8 418.0 L939.3 416.3 L940.8 414.5 L942.3 412.8 L943.8 411.0 L945.3 409.2 L946.8 407.4 L948.3 405.7 L949.8 403.9 L951.4 402.1 L952.9 400.3 L954.4 398.5 L955.9 396.7 L957.4 394.9 L958.9 393.1 L960.4 391.3 L961.9 389.5 L963.5 387.7 L965.0 385.9 L966.5 384.1 L968.0 382.3 L969.5 380.5 L971.0 378.7 L972.5 376.8 L974.0 375.0 L975.5 373.2 L977.1 371.4 L978.6 369.6 L980.1 367.9 L981.6 366.1 L983.1 364.3 L984.6 362.5 L986.1 360.7 L987.6 358.9 L989.2 357.2 L990.7 355.4 L992.2 353.7 L993.7 352.0 L995.2 350.3 L996.7 348.7 L998.2 347.1 L999.7 345.5 L1001.3 344.0 L1002.8 342.5 L1004.3 341.0 L1005.8 339.6 L1007.3 338.2 L1008.8 336.9 L1010.3 335.7 L1011.8 334.5 L1013.3 333.4 L1014.9 332.3 L1016.4 331.4 L1017.9 330.4 L1019.4 329.6 L1020.9 328.8 L1022.4 328.1 L1023.9 327.5 L1025.4 326.9 L1027.0 326.3 L1028.5 325.8 L1030.0 325.4 L1031.5 325.0 L1033.0 324.6 L1034.5 324.3 L1036.0 324.0 L1037.5 323.7 L1039.0 323.4 L1040.6 323.2 L1042.1 323.0 L1043.6 322.8 L1045.1 322.7 L1046.6 322.5 L1048.1 322.4 L1049.6 322.2 L1051.1 322.1 L1052.7 321.9 L1054.2 321.7 L1055.7 321.6 L1057.2 321.4 L1058.7 321.2" stroke="#1414f0" stroke-width="6.5" fill="none" stroke-linejoin="round"/>
<path d="M1055.0 299L1100.0 337M1055.0 337L1100.0 299" stroke="#1414f0" stroke-width="4.5" fill="none"/>
<path d="M1415.0 453.8L1460.0 491.8M1415.0 491.8L1460.0 453.8" stroke="#111" stroke-width="4.5" fill="none"/>
<text transform="translate(1131.5 339) scale(1.14 1)" font-size="62.3" fill="#1414f0">Fracture</text>
<text transform="translate(1492 492.5) scale(1.15 1)" font-size="62.3" fill="#111">Fracture</text>
</svg>
</body></html>
